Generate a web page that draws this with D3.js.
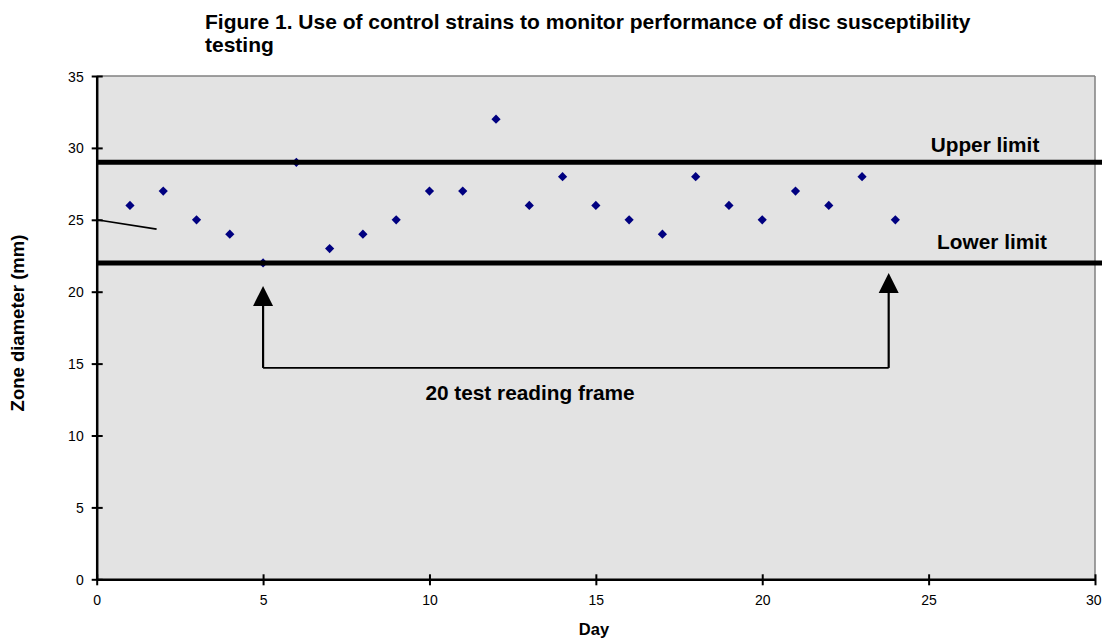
<!DOCTYPE html>
<html><head><meta charset="utf-8">
<script src="https://cdn.jsdelivr.net/npm/d3@7"></script>
<style>body{margin:0;background:#fff}svg{display:block}text{font-family:"Liberation Sans",Arial,sans-serif}</style>
</head><body>
<svg id="c" width="1102" height="639"></svg>
<script>
const days = [1,2,3,4,5,6,7,8,9,10,11,12,13,14,15,16,17,18,19,20,21,22,23,24];
const zone = [26,27,25,24,22,29,23,24,25,27,27,32,26,28,26,25,24,28,26,25,27,26,28,25];
const xTicks = [0,5,10,15,20,25,30];
const yTicks = [0,5,10,15,20,25,30,35];
const upperLimit = 29, lowerLimit = 22;
const strayLine = [[0,25],[1.8,24.35]];
const frameStart = 5, frameEnd = 23.8, frameY = 14.7;
const leftArrowTip = 20.4, rightArrowTip = 21.3;
const titleLines = ["Figure 1. Use of control strains to monitor performance of disc susceptibility","testing"];

const svg = d3.select("#c");
const x = d3.scaleLinear().domain([0,30]).range([96.7,1095]);
const y = d3.scaleLinear().domain([0,35]).range([579.3,76]);

svg.append("rect").attr("x",x(0)).attr("y",y(35)).attr("width",x(30)-x(0)).attr("height",y(0)-y(35)).attr("fill","#e3e3e3");
svg.append("line").attr("x1",x(0)).attr("x2",x(30)).attr("y1",y(35)).attr("y2",y(35)).attr("stroke","#808080").attr("stroke-width",1.5);
svg.append("line").attr("x1",x(30)).attr("x2",x(30)).attr("y1",y(35)).attr("y2",y(0)).attr("stroke","#808080").attr("stroke-width",1.5);

const r = 4.6;
svg.append("g").selectAll("path").data(days.map((d,i)=>[d,zone[i]])).join("path")
  .attr("d",`M0,${-r}L${r},0L0,${r}L${-r},0Z`).attr("transform",d=>`translate(${x(d[0])},${y(d[1])})`).attr("fill","#000080");

[upperLimit, lowerLimit].forEach(v=>{
  svg.append("line").attr("x1",x(0)).attr("x2",1102).attr("y1",y(v)).attr("y2",y(v)).attr("stroke","#000").attr("stroke-width",5);
});

svg.append("path").attr("d",d3.line().x(d=>x(d[0])).y(d=>y(d[1]))(strayLine)).attr("stroke","#000").attr("stroke-width",1.6).attr("fill","none");

const xAxis = d3.axisBottom(x).tickValues(xTicks).tickSize(0).tickFormat(d3.format("d"));
const gx = svg.append("g").attr("transform",`translate(0,${y(0)})`).call(xAxis);
gx.select(".domain").attr("stroke","#000").attr("stroke-width",2.5);
gx.selectAll(".tick").append("line").attr("y1",-5).attr("y2",6).attr("stroke","#000").attr("stroke-width",2);
gx.selectAll(".tick text").attr("dy",0).attr("y",26).attr("font-size",14).attr("fill","#000").attr("font-family","Liberation Sans, Arial, sans-serif");
gx.selectAll(".tick text").filter(d=>d===30).attr("text-anchor","end").attr("x",1101-x(30));

const yAxis = d3.axisLeft(y).tickValues(yTicks).tickSize(0).tickFormat(d3.format("d"));
const gy = svg.append("g").attr("transform",`translate(${x(0)},0)`).call(yAxis);
gy.select(".domain").attr("stroke","#000").attr("stroke-width",2.5);
gy.selectAll(".tick").append("line").attr("x1",-5).attr("x2",6).attr("stroke","#000").attr("stroke-width",2);
gy.selectAll(".tick text").attr("x",-13).attr("dy","0.36em").attr("font-size",14).attr("fill","#000").attr("font-family","Liberation Sans, Arial, sans-serif");

const fr = svg.append("g").attr("stroke","#000").attr("fill","none");
fr.append("line").attr("x1",x(frameStart)).attr("x2",x(frameEnd)).attr("y1",y(frameY)).attr("y2",y(frameY)).attr("stroke-width",1.6);
[[frameStart,leftArrowTip],[frameEnd,rightArrowTip]].forEach(([fx,tip])=>{
  const px = x(fx), ty = y(tip);
  fr.append("line").attr("x1",px).attr("x2",px).attr("y1",y(frameY)).attr("y2",ty+18).attr("stroke-width",2.2);
  svg.append("path").attr("d",`M${px},${ty} L${px-10},${ty+20} L${px+10},${ty+20} Z`).attr("fill","#000");
});

const lab = (t,xx,yy,anchor,size)=>svg.append("text").attr("x",xx).attr("y",yy).attr("text-anchor",anchor).attr("font-size",size).attr("font-weight","bold").attr("fill","#000").text(t);
lab("Upper limit",985,152,"middle",20.8);
lab("Lower limit",992,249,"middle",20.8);
lab("20 test reading frame",530,400,"middle",20.8);
titleLines.forEach((t,i)=>lab(t,205,29+i*23,"start",21));
lab("Day",594,635,"middle",16.5);
svg.append("text").attr("transform",`translate(24,323) rotate(-90)`).attr("text-anchor","middle").attr("font-size",18.5).attr("font-weight","bold").text("Zone diameter (mm)");
</script>
</body></html>
